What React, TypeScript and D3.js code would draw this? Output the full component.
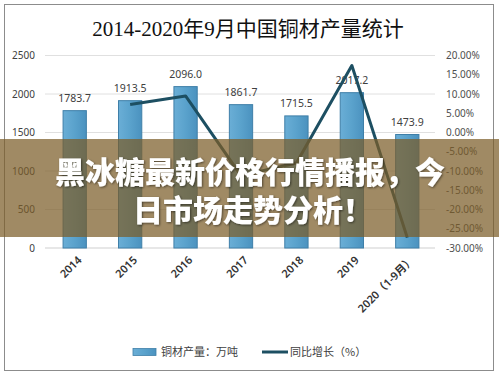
import React from "react";
import * as d3 from "d3";

const categories = ["2014", "2015", "2016", "2017", "2018", "2019", "2020（1-9月）"];
const output = [1783.7, 1913.5, 2096.0, 1861.7, 1715.5, 2017.2, 1473.9];
const growth: (number | null)[] = [null, 7.3, 9.5, -11.2, -7.9, 17.4, -27.3];
const leftTicks = [0, 500, 1000, 1500, 2000, 2500];
const rightTicks = [20, 15, 10, 5, 0, -5, -10, -15, -20, -25, -30];
const title = "2014-2020年9月中国铜材产量统计";
const legendBar = "铜材产量：万吨";
const legendLine = "同比增长（%）";
const overlay1 = "黑冰糖最新价格行情播报，今";
const overlay2 = "日市场走势分析！";

const W = 499;
const H = 377;
const plotL = 47;
const plotR = 435;
const plotT = 55.5;
const plotB = 248;

const sans = "'Noto Sans', 'Open Sans', 'Noto Sans CJK SC', sans-serif";
const cjk = "'Noto Sans CJK SC', 'Noto Sans', sans-serif";

export default function App() {
  const x = d3.scaleBand<string>().domain(categories).range([plotL, plotR]).paddingInner(0.58).paddingOuter(0.29);
  const yL = d3.scaleLinear().domain([0, 2500]).range([plotB, plotT]);
  const yR = d3.scaleLinear().domain([-30, 20]).range([plotB, plotT]);
  const cx = (c: string) => (x(c) as number) + x.bandwidth() / 2;

  const linePts = categories
    .map((c, i) => ({ c, v: growth[i] }))
    .filter((d) => d.v !== null) as { c: string; v: number }[];
  const line = d3
    .line<{ c: string; v: number }>()
    .x((d) => cx(d.c))
    .y((d) => yR(d.v));

  return (
    <div style={{ position: "absolute", left: 0, top: 0 }}>
      <svg width={W} height={H} xmlns="http://www.w3.org/2000/svg">
        <defs>
          <linearGradient id="barg" x1="0" x2="1" y1="0" y2="0">
            <stop offset="0" stopColor="#6aaed6" />
            <stop offset="0.5" stopColor="#5aa2cc" />
            <stop offset="1" stopColor="#4b92bf" />
          </linearGradient>
          <filter id="sh" x="-10%" y="-30%" width="120%" height="160%">
            <feDropShadow dx="1" dy="1" stdDeviation="1" floodColor="#000" floodOpacity="0.5" />
          </filter>
        </defs>
        <rect x={0} y={0} width={W} height={H} fill="#fff" />
        <rect x={4.5} y={4.5} width={489} height={366} fill="#fff" stroke="#8c8c8c" strokeWidth={1} />
        <text x={248} y={36} textAnchor="middle" fontSize={21} fontFamily="'Liberation Serif', 'Noto Sans CJK SC', serif" fill="#111">
          {title}
        </text>

        {leftTicks.map((t) => (
          <g key={"l" + t}>
            <line x1={45} x2={plotR} y1={yL(t)} y2={yL(t)} stroke={t === 0 ? "#cfcfcf" : "#e0e0e0"} strokeWidth={1} />
            <text x={35} y={yL(t)} dy="0.35em" textAnchor="end" fontSize={10} fontFamily={sans} fill="#404040">
              {t}
            </text>
          </g>
        ))}
        {rightTicks.map((t) => (
          <text key={"r" + t} x={446} y={yR(t)} dy="0.35em" textAnchor="start" fontSize={10} fontFamily={sans} fill="#505050">
            {t.toFixed(2) + "%"}
          </text>
        ))}

        {categories.map((c, i) => (
          <g key={c}>
            <rect
              x={x(c)}
              y={yL(output[i])}
              width={x.bandwidth()}
              height={plotB - yL(output[i])}
              fill="url(#barg)"
              stroke="#3f7fa8"
              strokeWidth={1}
            />
            <text x={cx(c)} y={yL(output[i]) - 9} textAnchor="middle" fontSize={10.5} fontFamily={sans} fill="#404040">
              {output[i].toFixed(1)}
            </text>
            <text
              transform={`translate(${cx(c) + 5},${plotB + 10}) rotate(-45)`}
              textAnchor="end"
              dy="0.35em"
              fontSize={11}
              fontWeight={600}
              fontFamily={sans}
              fill="#333"
            >
              {c}
            </text>
          </g>
        ))}

        <path d={line(linePts) || ""} fill="none" stroke="#1d4f62" strokeWidth={3} strokeLinejoin="round" />

        <rect x={133} y={348.5} width={23} height={7} fill="url(#barg)" stroke="#3f7fa8" strokeWidth={0.8} />
        <text x={161} y={352} dy="0.35em" fontSize={11} fontFamily={cjk} fill="#404040">
          {legendBar}
        </text>
        <line x1={262} x2={288} y1={352} y2={352} stroke="#1d4f62" strokeWidth={3} />
        <text x={290} y={352} dy="0.35em" fontSize={11} fontFamily={cjk} fill="#404040">
          {legendLine}
        </text>

        <rect x={0} y={139} width={W} height={98} fill="rgb(124,93,40)" fillOpacity={0.72} />
        <g filter="url(#sh)">
          <text x={250} y={172} dy="0.36em" textAnchor="middle" fontSize={30} fontWeight={900} fontFamily={cjk} fill="#fff">
            {overlay1}
          </text>
          <text x={253} y={210} dy="0.36em" textAnchor="middle" fontSize={30} fontWeight={900} fontFamily={cjk} fill="#fff">
            {overlay2}
          </text>
        </g>
      </svg>
    </div>
  );
}
